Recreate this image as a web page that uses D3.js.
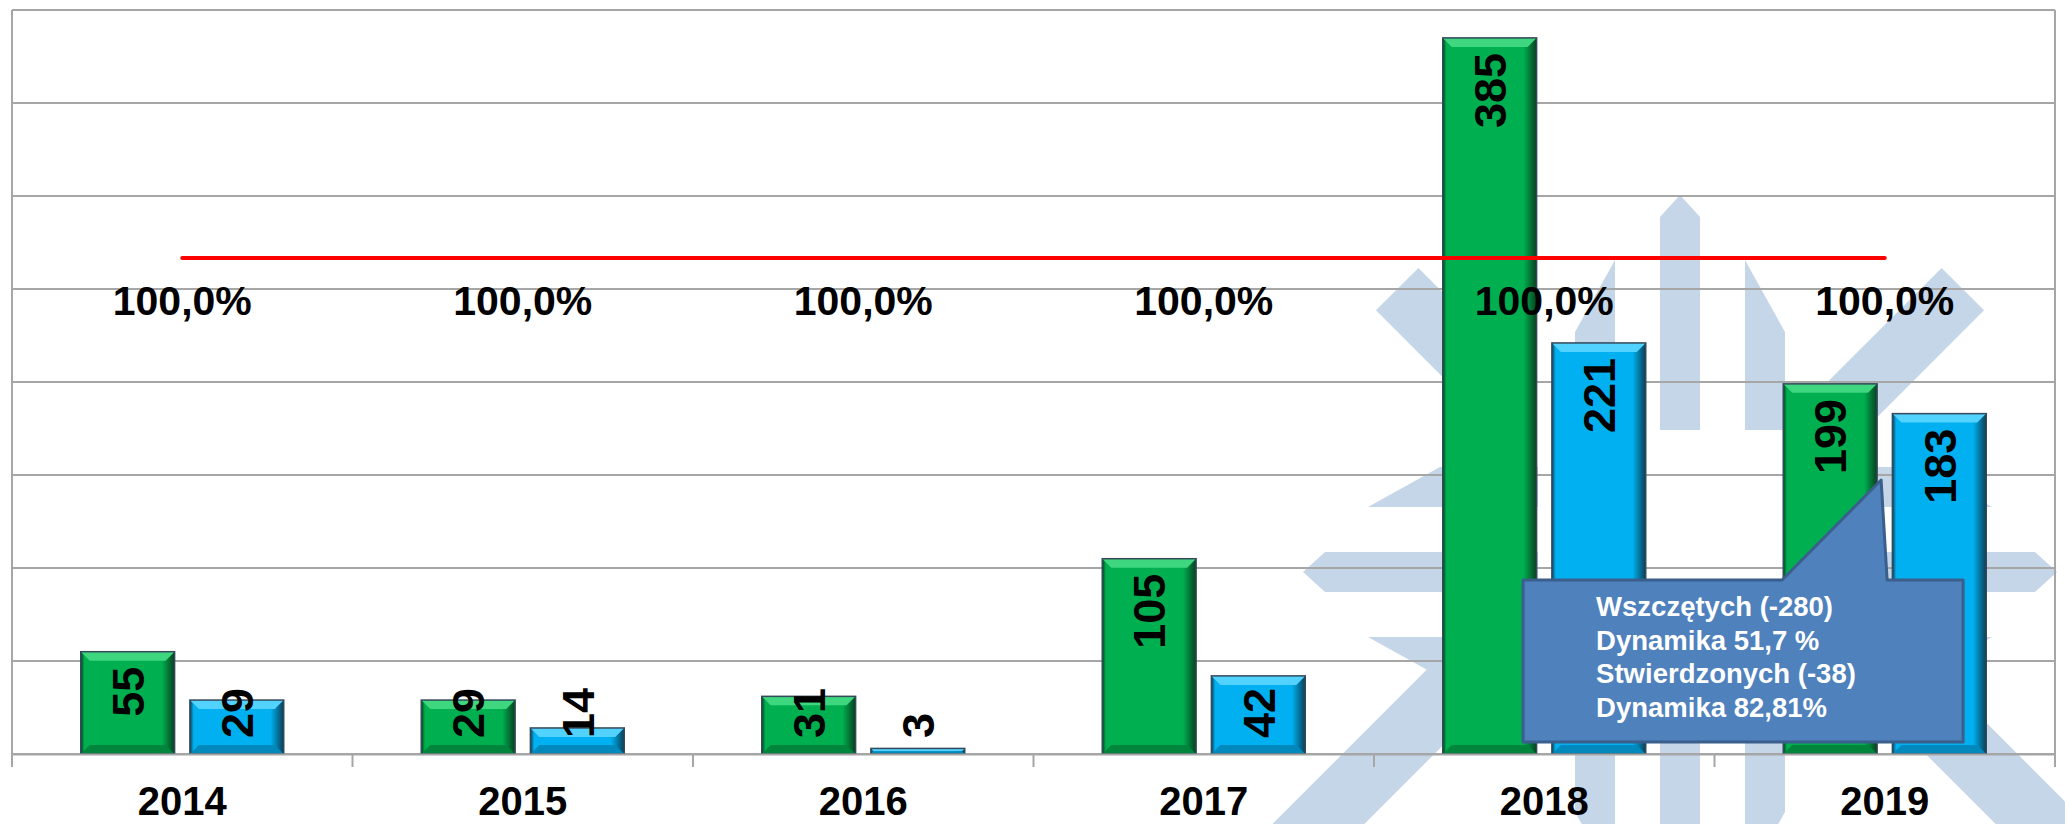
<!DOCTYPE html>
<html lang="pl">
<head>
<meta charset="utf-8">
<title>Postępowania 2014-2019</title>
<script src="https://cdn.jsdelivr.net/npm/d3@7"></script>
<style>
  body { margin: 0; background: #fff; }
  svg { display: block; font-family: Arial, "Liberation Sans", sans-serif; }
</style>
</head>
<body>
<div id="chart"></div>
<script>
// dane
var years = ['2014', '2015', '2016', '2017', '2018', '2019'];
var wszczete = [55, 29, 31, 105, 385, 199];
var stwierdzone = [29, 14, 3, 42, 221, 183];
var dynamika = [1, 1, 1, 1, 1, 1];
var seriesKeys = ['wszczete', 'stwierdzone'];
var calloutLines = ['Wszczętych (-280)', 'Dynamika 51,7 %', 'Stwierdzonych (-38)', 'Dynamika 82,81%'];

var width = 2065, height = 824;
var plot = { left: 12, top: 10, right: 2055, bottom: 754 };

var colors = {
  wszczete: { main: '#00B050', light: '#3ED67F', dark: '#00853C', edge: '#07401F' },
  stwierdzone: { main: '#00B0F0', light: '#52D2FF', dark: '#0089BC', edge: '#0A3F56' }
};

var svg = d3.select('#chart').append('svg').attr('width', width).attr('height', height);
var defs = svg.append('defs');

var x = d3.scaleBand().domain(years).range([plot.left, plot.right]);
var xs = d3.scaleBand().domain(seriesKeys).range([0, x.bandwidth()]).paddingInner(0.14).paddingOuter(0.63);
var y = d3.scaleLinear().domain([0, 400]).range([plot.bottom, plot.top]);
var y2 = d3.scaleLinear().domain([0, 1.5]).range([plot.bottom, plot.top]);

var pl = d3.formatLocale({ decimal: ',', thousands: ' ', grouping: [3], currency: ['', ' zł'] });
var pct = pl.format('.1%');

var rows = years.map(function (d, i) {
  return { year: d, wszczete: wszczete[i], stwierdzone: stwierdzone[i], dynamika: dynamika[i] };
});

// znak wodny w tle
function drawLogo(g, cx, cy) {
  var arm = [
    [[-20, 142], [-20, 355], [0, 377], [20, 355], [20, 142]],
    [[-105, 142], [-105, 240], [-65, 312], [-65, 142]],
    [[65, 142], [65, 312], [105, 240], [105, 142]]
  ];
  var diagTop = [[-30, 240], [-30, 400], [30, 400], [30, 240]];
  var diagLeft = [[-110, 190], [-110, 470], [-45, 470], [-45, 190]];
  var diagRight = [[45, 190], [45, 470], [110, 470], [110, 190]];
  function place(shape, deg) {
    var a = deg * Math.PI / 180;
    var o = [Math.sin(a), -Math.cos(a)], p = [Math.cos(a), Math.sin(a)];
    return shape.map(function (pt) {
      return [cx + pt[1] * o[0] + pt[0] * p[0], cy + pt[1] * o[1] + pt[0] * p[1]];
    });
  }
  var polys = [];
  [0, 90, 180, 270].forEach(function (deg) {
    arm.forEach(function (s) { polys.push(place(s, deg)); });
  });
  polys.push(place(diagTop, 45), place(diagTop, 315));
  polys.push(place(diagLeft, 135), place(diagRight, 225));
  g.selectAll('polygon').data(polys).enter().append('polygon')
    .attr('points', function (d) { return d.map(function (p) { return p.join(','); }).join(' '); })
    .attr('fill', '#C6D6E9');
}
drawLogo(svg.append('g'), 1680, 572);

// siatka
var grid = svg.append('g');
grid.selectAll('line').data(y.ticks(8)).enter().append('line')
  .attr('x1', plot.left).attr('x2', plot.right)
  .attr('y1', function (d) { return y(d); }).attr('y2', function (d) { return y(d); })
  .attr('stroke', '#A6A6A6').attr('stroke-width', 2);
grid.append('line').attr('x1', plot.left).attr('x2', plot.left).attr('y1', plot.top).attr('y2', plot.bottom + 13)
  .attr('stroke', '#A6A6A6').attr('stroke-width', 2);
grid.append('line').attr('x1', plot.right).attr('x2', plot.right).attr('y1', plot.top).attr('y2', plot.bottom + 13)
  .attr('stroke', '#A6A6A6').attr('stroke-width', 2);

// gradienty słupków
seriesKeys.forEach(function (k) {
  var c = colors[k];
  var lg = defs.append('linearGradient').attr('id', 'grad-' + k).attr('x1', 0).attr('x2', 1).attr('y1', 0).attr('y2', 0);
  lg.append('stop').attr('offset', '0%').attr('stop-color', c.edge);
  lg.append('stop').attr('offset', '4%').attr('stop-color', c.main);
  lg.append('stop').attr('offset', '86%').attr('stop-color', c.main);
  lg.append('stop').attr('offset', '100%').attr('stop-color', c.edge);
});

// słupki
var groups = svg.append('g').selectAll('g').data(rows).enter().append('g')
  .attr('transform', function (d) { return 'translate(' + x(d.year) + ',0)'; });

seriesKeys.forEach(function (k) {
  var c = colors[k];
  var bar = groups.append('g');
  bar.each(function (d) {
    var g = d3.select(this);
    var bx = xs(k), bw = xs.bandwidth();
    var top = y(d[k]), h = y(0) - y(d[k]);
    var b = Math.min(9, h / 2);
    g.append('rect').attr('x', bx).attr('y', top).attr('width', bw).attr('height', h)
      .attr('fill', 'url(#grad-' + k + ')');
    g.append('polygon').attr('points', [[bx, top], [bx + bw, top], [bx + bw - b, top + b], [bx + b, top + b]].join(' '))
      .attr('fill', c.light);
    g.append('polygon').attr('points', [[bx, top + h], [bx + bw, top + h], [bx + bw - b, top + h - b], [bx + b, top + h - b]].join(' '))
      .attr('fill', c.dark);
    g.append('rect').attr('x', bx).attr('y', top).attr('width', bw).attr('height', h)
      .attr('fill', 'none').attr('stroke', '#34495A').attr('stroke-width', 1.5);
  });
});

// etykiety wartości (pionowe)
seriesKeys.forEach(function (k) {
  groups.append('text')
    .attr('font-size', 45).attr('font-weight', 'bold').attr('fill', '#000')
    .attr('text-anchor', 'end').attr('dy', '0.36em')
    .text(function (d) { return d[k]; })
    .each(function (d) {
      var len = this.getComputedTextLength();
      var cx = xs(k) + xs.bandwidth() / 2;
      var ty = Math.min(y(d[k]) + 15, y(0) - 16 - len);
      d3.select(this).attr('transform', 'translate(' + cx + ',' + ty + ') rotate(-90)');
    });
});

// linia dynamiki
var line = d3.line()
  .x(function (d) { return x(d.year) + x.bandwidth() / 2; })
  .y(function (d) { return y2(d.dynamika); });
svg.append('path').datum(rows).attr('d', line)
  .attr('fill', 'none').attr('stroke', '#FF0000').attr('stroke-width', 4).attr('stroke-linecap', 'round');

svg.append('g').selectAll('text').data(rows).enter().append('text')
  .attr('x', function (d) { return x(d.year) + x.bandwidth() / 2; })
  .attr('y', function (d) { return y2(d.dynamika) + 57; })
  .attr('text-anchor', 'middle').attr('font-size', 41).attr('font-weight', 'bold')
  .text(function (d) { return pct(d.dynamika); });

// oś X
var axis = svg.append('g').attr('transform', 'translate(0,' + plot.bottom + ')')
  .call(d3.axisBottom(x).tickSize(0).tickSizeOuter(0));
axis.attr('font-family', null).attr('font-size', null);
axis.select('.domain').attr('stroke', '#A6A6A6').attr('stroke-width', 2);
axis.selectAll('text').attr('y', 61).attr('dy', 0)
  .attr('font-size', 40).attr('font-weight', 'bold').attr('fill', '#000');
var bounds = years.map(function (d) { return x(d); }).concat([plot.right]);
axis.selectAll('.bound').data(bounds).enter().append('line').attr('class', 'bound')
  .attr('x1', function (d) { return d; }).attr('x2', function (d) { return d; })
  .attr('y1', 0).attr('y2', 13).attr('stroke', '#A6A6A6').attr('stroke-width', 2);

// dymek z komentarzem
var last = rows[rows.length - 1];
var edge = x(last.year) + xs('wszczete') + xs.bandwidth();
var tip = [edge + 4, plot.bottom - 274];
var box = { left: edge - 354, right: edge + 86, top: plot.bottom - 174, bottom: plot.bottom - 12 };
var callout = svg.append('g');
callout.append('path')
  .attr('d', 'M' + box.left + ',' + box.top + 'L' + (box.left + 259) + ',' + box.top +
    'L' + tip[0] + ',' + tip[1] + 'L' + (tip[0] + 6) + ',' + box.top +
    'L' + box.right + ',' + box.top + 'L' + box.right + ',' + box.bottom + 'L' + box.left + ',' + box.bottom + 'Z')
  .attr('fill', '#4F81BD').attr('stroke', '#3A5F8C').attr('stroke-width', 3).attr('stroke-linejoin', 'round');
callout.selectAll('text').data(calloutLines).enter().append('text')
  .attr('x', box.left + 73)
  .attr('y', function (d, i) { return box.top + 36 + i * 33.7; })
  .attr('fill', '#fff').attr('font-size', 27.5).attr('font-weight', 'bold')
  .text(function (d) { return d; });
</script>
</body>
</html>
